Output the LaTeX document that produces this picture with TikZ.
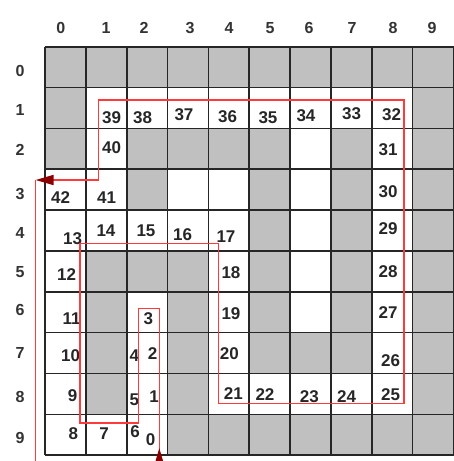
\documentclass[tikz,border=0pt]{standalone}
\usepackage{fontspec}
\setmainfont{Liberation Sans}
\usetikzlibrary{arrows.meta}
\definecolor{cellgray}{HTML}{C0C0C0}
\definecolor{pathred}{HTML}{FF3A3A}
\definecolor{tipred}{HTML}{8B0000}

\begin{document}
\begin{tikzpicture}[x=1pt, y=-1pt,
    gridline/.style={line width=1.6pt, draw=black!85},
    num/.style={font=\fontsize{17}{17}\selectfont\bfseries, text=black!85, inner sep=0pt},
    axis/.style={font=\fontsize{16}{16}\selectfont\bfseries, text=black!80, inner sep=0pt},
    redpath/.style={draw=pathred, line width=1.6pt},
    tip/.style={-{Triangle[length=18pt, width=10pt, color=tipred]}}]
    \useasboundingbox (0,0) rectangle (454,461);
    % gray cells, row / columns
    \foreach \r/\cols in {0/{0,1,2,3,4,5,6,7,8,9}, 1/{0,9}, 2/{0,2,3,4,5,7,9},
        3/{2,5,7,9}, 4/{5,7,9}, 5/{1,2,3,5,7,9}, 6/{1,3,5,7,9},
        7/{1,3,5,6,7,9}, 8/{1,3,9}, 9/{3,4,5,6,7,8,9}}
        \foreach \c in \cols
            \fill[cellgray] ({45+40.85*\c},{46.7+40.85*\r}) rectangle +(40.85,40.85);
    \foreach \i in {0,...,10} {
        \draw[gridline] ({45+40.85*\i},46.7) -- ({45+40.85*\i},455.2);
        \draw[gridline] (45,{46.7+40.85*\i}) -- (454,{46.7+40.85*\i});
    }
    % axis labels
    \foreach \k/\x in {0/60.7, 1/106, 2/144, 3/190, 4/229, 5/270, 6/309, 7/352, 8/393, 9/432}
        \node[axis] (col\k) at (\x,28) {\k};
    \foreach \k/\y in {0/70.7, 1/110, 2/150, 3/194, 4/233, 5/272, 6/310, 7/353, 8/397, 9/438}
        \node[axis] (row\k) at (20,\y) {\k};
    % step numbers
    \foreach \k/\x/\y in {0/150.7/440, 1/154/396.7, 2/152.7/353.3, 3/148.3/318.3,
        4/134.3/356, 5/134.3/399.3, 6/135/431.7, 7/104/433.3, 8/73.3/433.3,
        9/72.7/396, 10/70.7/356, 11/71.7/318.3, 12/66.7/274.3, 13/72.7/239,
        14/106/231, 15/146/231, 16/182.7/234.3, 17/226/236.7, 18/231/272.7,
        19/231/313.3, 20/229.3/353.3, 21/233.3/393.3, 22/265/395, 23/309.3/396.7,
        24/346.7/396.7, 25/390.7/395, 26/390.7/361, 27/388/313, 28/388/271.7,
        29/388/228.3, 30/388/191.7, 31/388/150, 32/391.7/115, 33/351.7/114,
        34/306/116, 35/268/118, 36/227.7/117, 37/184/115, 38/142.7/118,
        39/111.7/118, 40/111.7/148, 41/106.7/197.7, 42/60.7/197.7}
        \node[num] (n\k) at (\x,\y) {\k};
    % red route
    \coordinate (in) at (159.3,461);
    \coordinate (out) at (35.6,180);
    \draw[redpath, tip] (in) |- (138.3,308.3) |- (80,422.7) |- (218.3,243.3)
        |- (404,403.3) |- (98.3,100) |- (out);
    \draw[redpath] (out) -- (35.6,461);
    \draw[redpath, tip] (159.3,470) -- (159.3,448);
\end{tikzpicture}
\end{document}
